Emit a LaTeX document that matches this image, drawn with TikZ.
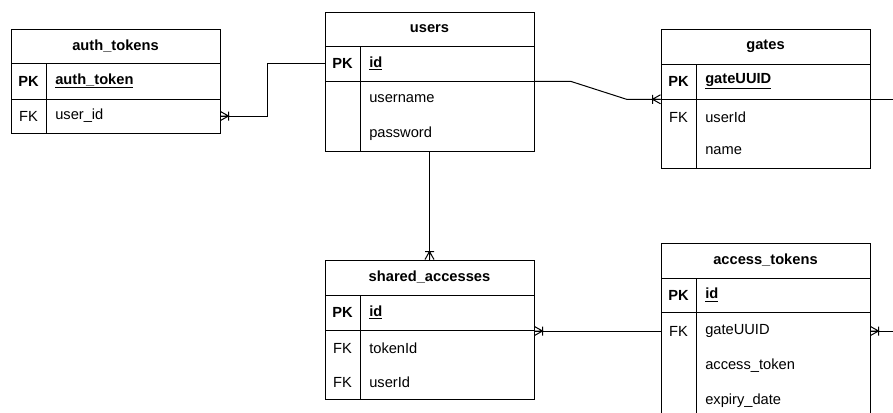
\documentclass[tikz,border=0pt]{standalone}
\usepackage{fontspec}
\setmainfont{Liberation Sans}
\usetikzlibrary{fit,calc}
\begin{document}
\begin{tikzpicture}[x=0.75pt,y=-0.75pt,
  every node/.style={font=\fontsize{11}{13}\selectfont, text=black},
  tbl/.style={draw, inner sep=0pt, line width=0.75pt},
  sep/.style={line width=0.75pt},
  hdr/.style={font=\fontsize{11}{13}\selectfont\bfseries, inner sep=0pt},
  key/.style={font=\fontsize{11}{13}\selectfont\bfseries, inner sep=0pt, minimum height=26.25pt},
  fkey/.style={inner sep=0pt, minimum height=26.25pt},
  fld/.style={anchor=west, inner sep=0pt},
  pkfld/.style={anchor=west, inner sep=0pt, font=\fontsize{11}{13}\selectfont\bfseries},
  conn/.style={line width=0.75pt},
  crow/.pic={\draw[line width=0.75pt] (0,-4.5) -- (8,0) -- (0,4.5) (8,-4.5) -- (8,4.5) (0,0) -- (8,0);}
]
\useasboundingbox (0,0) rectangle (893,412);
\clip (0,0) rectangle (893,412);
\fill[white] (0,0) rectangle (893,412);

% auth_tokens
\node[tbl, fit={(11,29) (220,133)}] (auth_tokens) {};
\draw[sep] (11,63) -- (220,63) (11,99) -- (220,99) (46,63) -- (46,133);
\node[hdr] at (115.5,46) {auth\_tokens};
\node[key] (at_pk) at (28.5,81) {PK};
\node[pkfld] at (55,81) {\underline{auth\_token}};
\node[fkey] at (28.5,116) {FK};
\node[fld] (at_fk) at (55,116) {user\_id};

% users
\node[tbl, fit={(325,12) (534,151)}] (users) {};
\draw[sep] (325,46) -- (534,46) (325,81) -- (534,81) (360,46) -- (360,151);
\node[hdr] at (429.5,29) {users};
\node[key] (users_pk) at (342.5,63.5) {PK};
\node[pkfld] at (369,63.5) {\underline{id}};
\node[fld] at (369,99) {username};
\node[fld] at (369,134) {password};

% gates
\node[tbl, fit={(661,29) (870,168)}] (gates) {};
\draw[sep] (661,64) -- (870,64) (661,99) -- (870,99) (696,64) -- (696,168);
\node[hdr] at (765.5,46.5) {gates};
\node[key] (gates_pk) at (678.5,81.5) {PK};
\node[pkfld] at (705,81.5) {\underline{gateUUID}};
\node[fkey] at (678.5,117) {FK};
\node[fld] at (705,117) {userId};
\node[fld] at (705,151) {name};

% shared_accesses
\node[tbl, fit={(325,260) (534,399)}] (shared_accesses) {};
\draw[sep] (325,295) -- (534,295) (325,330) -- (534,330) (360,295) -- (360,399);
\node[hdr] at (429.5,277.5) {shared\_accesses};
\node[key] (sa_pk) at (342.5,312.5) {PK};
\node[pkfld] at (369,312.5) {\underline{id}};
\node[fkey] at (342.5,348) {FK};
\node[fld] at (369,348) {tokenId};
\node[fkey] at (342.5,382) {FK};
\node[fld] at (369,382) {userId};

% access_tokens
\node[tbl, fit={(661,243) (870,419)}] (access_tokens) {};
\draw[sep] (661,278) -- (870,278) (661,312) -- (870,312) (696,278) -- (696,419);
\node[hdr] at (765.5,260.5) {access\_tokens};
\node[key] (ac_pk) at (678.5,295) {PK};
\node[pkfld] at (705,295) {\underline{id}};
\node[fkey] at (678.5,331) {FK};
\node[fld] (ac_gate) at (705,331) {gateUUID};
\node[fld] at (705,366) {access\_token};
\node[fld] at (705,401) {expiry\_date};

% connectors
\draw[conn] (auth_tokens.east |- at_fk) -- ++(47,0) |- (users.west |- users_pk);
\pic at (auth_tokens.east |- at_fk) {crow};

\draw[conn] (users.east |- users_pk.south) -- ++(36,0)
  -- ($(gates.west |- gates_pk.south)+(-34,0)$) -- (gates.west |- gates_pk.south);
\pic[rotate=180] at (gates.west |- gates_pk.south) {crow};

\draw[conn] (users.south) -- (shared_accesses.north);
\pic[rotate=90] at (shared_accesses.north) {crow};

\draw[conn] (shared_accesses.east |- ac_gate) -- (access_tokens.west |- ac_gate);
\pic at (shared_accesses.east |- ac_gate) {crow};

\draw[conn] (gates.east |- gates_pk.south) -- ++(40,0) |- (access_tokens.east |- ac_gate);
\pic at (access_tokens.east |- ac_gate) {crow};
\end{tikzpicture}
\end{document}
